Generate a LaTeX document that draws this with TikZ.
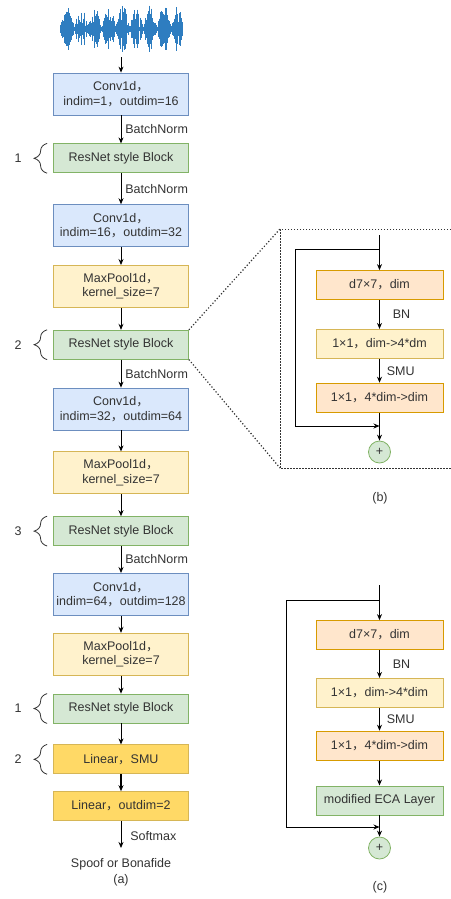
\documentclass[tikz,border=0pt]{standalone}
\usepackage{fontspec}
\setmainfont{Liberation Sans}
\newfontfamily\cjk{Noto Sans CJK SC}
\usepackage{tikz}
\usetikzlibrary{positioning,arrows.meta,decorations.pathreplacing}

\definecolor{txtc}{HTML}{333333}
\definecolor{bluf}{HTML}{DAE8FC}
\definecolor{blud}{HTML}{6C8EBF}
\definecolor{grnf}{HTML}{D5E8D4}
\definecolor{grnd}{HTML}{82B366}
\definecolor{ylwf}{HTML}{FFF2CC}
\definecolor{ylwd}{HTML}{D6B656}
\definecolor{pchf}{HTML}{FFE6CC}
\definecolor{pchd}{HTML}{D79B00}
\definecolor{gldf}{HTML}{FFD966}
\definecolor{wavc}{HTML}{2E7DC0}

\newcommand{\fc}{{\cjk ，}}

\begin{document}
\begin{tikzpicture}[x=1bp, y=-1bp,
    every node/.style={text=txtc, font=\fontsize{12.5bp}{14.5bp}\selectfont},
    box/.style={draw, line width=0.8bp, minimum width=135bp, minimum height=29bp, inner sep=0pt, align=center},
    blu/.style={box, minimum height=42bp, fill=bluf, draw=blud},
    ylw/.style={box, minimum height=42bp, fill=ylwf, draw=ylwd},
    grn/.style={box, fill=grnf, draw=grnd},
    gld/.style={box, fill=gldf, draw=ylwd},
    pch/.style={box, minimum width=127bp, fill=pchf, draw=pchd},
    lyw/.style={box, minimum width=127bp, fill=ylwf, draw=ylwd},
    gsm/.style={box, minimum width=127bp, fill=grnf, draw=grnd},
    plus/.style={circle, draw=grnd, fill=grnf, line width=0.8bp, minimum size=22bp, inner sep=0pt},
    ar/.style={-{Stealth[length=6bp,width=5bp]}, line width=0.8bp, black},
    lbl/.style={right, inner sep=0pt, xshift=4bp},
    brc/.style={decorate, decoration={brace, amplitude=13bp}, line width=0.8bp, draw=txtc},
    wav/.style={draw=wavc, line width=0.7bp},
    dot/.style={draw=txtc, line width=1.2bp, dash pattern=on 1.2bp off 2bp},
    dsh/.style={draw=txtc, line width=0.8bp, dash pattern=on 1.5bp off 1.5bp}]
  \useasboundingbox (0,0) rectangle (451,899);

  % waveform
  \pgfmathsetseed{11}
  \foreach \i in {0,...,245}{
    \pgfmathsetmacro{\h}{2+22*abs(sin(\i*6.5))*rnd}
    \draw[wav] (60+\i*0.5,29-\h) -- (60+\i*0.5,29+\h);
  }
  \draw[wav, line width=2.5bp] (60,29) -- (183,29);
  \coordinate (A) at (121,57);

  % (a)
  \node[blu] (B) at (121,94) {Conv1d\fc\\indim=1\fc outdim=16};
  \node[grn] (C) [below=28bp of B] {ResNet style Block};
  \node[blu] (D) [below=31bp of C] {Conv1d\fc\\indim=16\fc outdim=32};
  \node[ylw] (E) [below=18bp of D] {MaxPool1d\fc\\kernel\_size=7};
  \node[grn] (F) [below=22bp of E] {ResNet style Block};
  \node[blu] (G) [below=28bp of F] {Conv1d\fc\\indim=32\fc outdim=64};
  \node[ylw] (H) [below=21bp of G] {MaxPool1d\fc\\kernel\_size=7};
  \node[grn] (I) [below=22bp of H] {ResNet style Block};
  \node[blu] (J) [below=27bp of I] {Conv1d\fc\\indim=64\fc outdim=128};
  \node[ylw] (K) [below=17bp of J] {MaxPool1d\fc\\kernel\_size=7};
  \node[grn] (L) [below=18bp of K] {ResNet style Block};
  \node[gld] (M) [below=21bp of L] {Linear\fc SMU};
  \node[gld] (N) [below=17bp of M] {Linear\fc outdim=2};
  \node[inner sep=0pt] (O) at (121,864) {Spoof or Bonafide};
  \node (la) at (121,880) {(a)};

  \path[ar]
    (A) edge (B)
    (B) edge node[lbl] {BatchNorm} (C)
    (C) edge node[lbl] {BatchNorm} (D)
    (D) edge (E)
    (E) edge (F)
    (F) edge node[lbl] {BatchNorm} (G)
    (G) edge (H)
    (H) edge (I)
    (I) edge node[lbl] {BatchNorm} (J)
    (J) edge (K)
    (K) edge (L)
    (L) edge (M)
    (N) edge[shorten >=10bp] node[lbl, xshift=5bp, yshift=3bp] {Softmax} (O);
  \draw[ar, line width=1.6bp] (M) -- (N);

  \foreach \n/\k in {C/1,F/2,I/3,L/1,M/2}{
    \draw[brc] ([xshift=-6bp]\n.south west) -- ([xshift=-6bp]\n.north west);
    \node (\n-k) at ([xshift=-35bp]\n.west) {\k};
  }

  % (b)
  \coordinate (zt) at (280,229);
  \coordinate (zb) at (280,468);
  \draw[dot] (F.north east) -- (zt);
  \draw[dot] (F.south east) -- (zb);
  \draw[dsh] (460,229) -- (zt) -- (zb) -- (460,468);

  \coordinate (b0) at (379.5,235);
  \coordinate (b1) at (379.5,249);
  \coordinate (b2) at (379.5,426);
  \node[pch] (P) at (379.5,285) {d7×7\fc dim};
  \node[lyw] (Q) [below=29bp of P] {1×1\fc dim->4*dm};
  \node[pch] (R) [below=24bp of Q] {1×1\fc 4*dim->dim};
  \node[plus] (S) at (379.5,452) {+};
  \node (lb) at (380,498) {(b)};

  \path[ar]
    (b0) edge (P)
    (P) edge node[lbl, xshift=9bp] {BN} (Q)
    (Q) edge node[lbl, xshift=3bp] {SMU} (R)
    (R) edge (S);
  \draw[ar] (b1) -- ++(-84.5,0) |- (b2);

  % (c)
  \coordinate (c0) at (379.5,585);
  \coordinate (c1) at (379.5,600);
  \coordinate (c2) at (379.5,827);
  \node[pch] (T) at (379.5,635) {d7×7\fc dim};
  \node[lyw] (U) [below=28bp of T] {1×1\fc dim->4*dim};
  \node[pch] (V) [below=23bp of U] {1×1\fc 4*dim->dim};
  \node[gsm] (W) [below=25bp of V] {modified ECA Layer};
  \node[plus] (X) at (379.5,848) {+};
  \node (lc) at (380,887) {(c)};

  \path[ar]
    (c0) edge (T)
    (T) edge node[lbl, xshift=9bp] {BN} (U)
    (U) edge node[lbl, xshift=3bp] {SMU} (V)
    (V) edge (W)
    (W) edge (X);
  \draw[ar] (c1) -- ++(-93.5,0) |- (c2);
\end{tikzpicture}
\end{document}
